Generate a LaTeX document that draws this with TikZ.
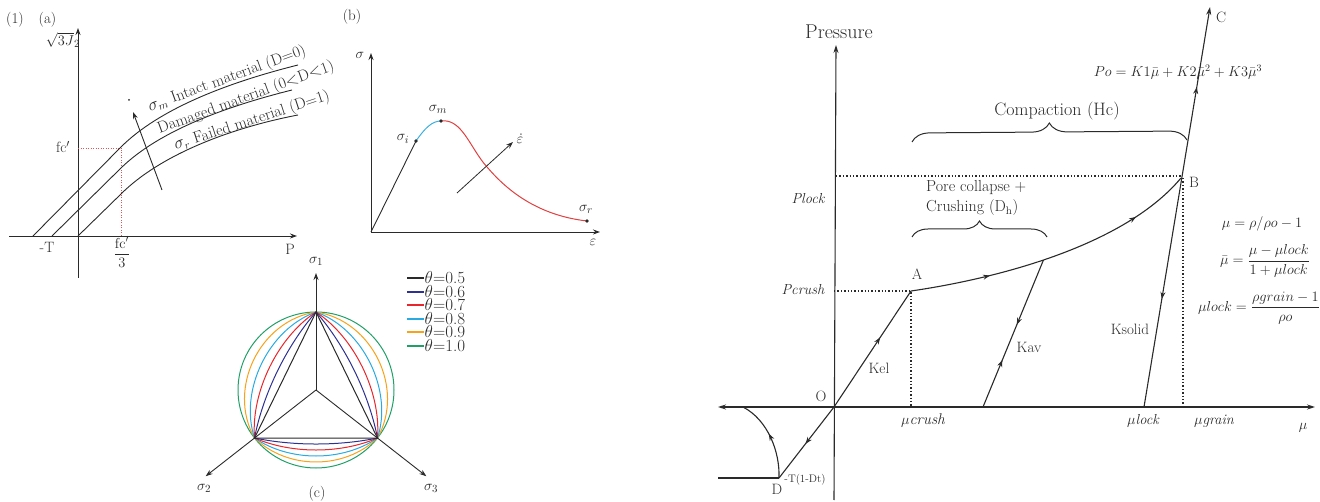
\documentclass[tikz,border=0pt]{standalone}
\usepackage{amsmath}
\usetikzlibrary{arrows.meta,calc,decorations.markings,decorations.pathreplacing}
\definecolor{ink}{HTML}{2A2A2A}
\definecolor{tblue}{HTML}{2E3192}
\definecolor{tred}{HTML}{E8262B}
\definecolor{tcyan}{HTML}{29ABE2}
\definecolor{torange}{HTML}{F7A21B}
\definecolor{tgreen}{HTML}{1FA067}
\definecolor{dotred}{HTML}{E05555}
\definecolor{bblue}{HTML}{3BB0E0}
\definecolor{bred}{HTML}{E0403F}
\begin{document}
\begin{tikzpicture}[x=1pt,y=-1pt,
  lab/.style={font=\fontsize{15}{17}\selectfont, text=ink, inner sep=1pt},
  big/.style={font=\fontsize{17}{19}\selectfont, text=ink, inner sep=1pt},
  curvelab/.style={font=\fontsize{16}{18}\selectfont, text=ink, inner sep=0.5pt},
  mlab/.style={font=\fontsize{14.5}{16}\selectfont, text=ink, inner sep=1pt},
  small/.style={font=\fontsize{11}{13}\selectfont, text=ink, inner sep=1pt},
  ax/.style={draw=ink, line width=0.9pt, -{Stealth[length=7pt,width=5pt]}},
  crv/.style={draw=ink, line width=0.9pt},
  cl/.style={line width=1pt},
  rl/.style={draw=ink, line width=1.1pt},
  dotl/.style={draw=ink, line width=1.2pt, dash pattern=on 1.4pt off 2pt},
  reddot/.style={draw=dotred, line width=0.8pt, dash pattern=on 1pt off 1.5pt},
  mid/.style={postaction={decorate}, decoration={markings, mark=at position #1 with {\arrow{Stealth[length=7pt,width=5pt]}}}},
  twomid/.style 2 args={postaction={decorate}, decoration={markings,
     mark=at position #1 with {\arrow{Stealth[length=7pt,width=5pt]}},
     mark=at position #2 with {\arrow{Stealth[length=7pt,width=5pt]}}}},
  updown/.style 2 args={postaction={decorate}, decoration={markings,
     mark=at position #1 with {\arrow{Stealth[length=7pt,width=5pt]}},
     mark=at position #2 with {\arrowreversed{Stealth[length=7pt,width=5pt]}}}},
  downup/.style 2 args={postaction={decorate}, decoration={markings,
     mark=at position #1 with {\arrowreversed{Stealth[length=7pt,width=5pt]}},
     mark=at position #2 with {\arrow{Stealth[length=7pt,width=5pt]}}}},
  br/.style={draw=ink, line width=1pt, decorate, decoration={brace, amplitude=#1}}
]
\useasboundingbox (0,0) rectangle (1320,502);

% ================= panel (a) =================
\draw[ax] (9,236) -- (297,236);
\draw[ax] (78,278) -- (78,28);
\node[lab, anchor=west] (n1a) at (5,20) {(1)\quad(a)};
\node[lab] (j2) at (63,40) {$\sqrt{3J}_{2}$};
\node[lab] (fc) at (63,147) {fc$'$};
\draw[reddot] (78,148) -- (121,148) -- (121,236);
\node[lab] (mT) at (47,247) {-T};
\node[lab] (fc3) at (122,252) {$\dfrac{\mathrm{fc}'}{3}$};
\node[lab] (Pa) at (290,249) {P};
\draw[crv] (33,236) -- (121,147) .. controls (160,108) and (230,82) .. (298,65);
\draw[crv] (52,236) -- (121,168) .. controls (160,130) and (228,106) .. (292,90);
\draw[crv] (78,236) -- (121,194) .. controls (160,155) and (230,128) .. (298,115);
\node[curvelab, rotate=20] (t1) at (227,79) {$\sigma_{m}$ Intact material (D=0)};
\node[curvelab, rotate=20] (t2) at (246,98) {Damaged material (0$<$D$<$1)};
\node[curvelab, rotate=18] (t3) at (252,121) {$\sigma_{r}$ Failed material (D=1)};
\coordinate (arA) at (162,190);
\coordinate (arB) at (133,112);
\draw[ax] (arA) -- (arB);
\fill[ink] (129,100) circle[radius=1];

% ================= panel (b) =================
\node[lab] (nb) at (352,17) {(b)};
\coordinate (bO) at (371,232);
\draw[ax] (bO) -- (371,53);
\draw[ax] (bO) -- (600,232);
\node[lab] (sig) at (360,55) {$\sigma$};
\node[lab] (eps) at (593,242) {$\varepsilon$};
\coordinate (si) at (416,141);
\coordinate (sm) at (441,121);
\coordinate (sr) at (587,221);
\draw[crv] (bO) -- (si);
\draw[bblue, line width=1pt] (si) .. controls (425,128) and (432,121) .. (sm);
\draw[bred, line width=1pt] (sm) .. controls (462,118) and (470,148) .. (487,167)
   .. controls (505,188) and (535,215) .. (sr);
\fill[ink] (si) circle[radius=1.8];
\fill[ink] (sm) circle[radius=1.8];
\fill[ink] (sr) circle[radius=1.8];
\node[lab] (lsi) at (403,139) {$\sigma_{i}$};
\node[lab] (lsm) at (438,109) {$\sigma_{m}$};
\node[lab] (lsr) at (586,209) {$\sigma_{r}$};
\draw[ax, line width=0.8pt] (457,193) -- (513,142);
\node[lab] (ed) at (520,139) {$\dot{\varepsilon}$};

% ================= panel (c) =================
\coordinate (cO) at (316,390);
\coordinate (vA) at ($(cO)+(-90:78)$);
\coordinate (vB) at ($(cO)+(-218:78)$);
\coordinate (vC) at ($(cO)+(-322:78)$);
\coordinate (a1) at ($(vA)+(-180:65)$);
\coordinate (a2) at ($(vB)+(-128:65)$);
\coordinate (b1) at ($(vB)+(-308:50.7)$);
\coordinate (b2) at ($(vC)+(-232:50.7)$);
\coordinate (c1) at ($(vC)+(-52:65)$);
\coordinate (c2) at ($(vA)+(0:65)$);
\draw[tgreen, cl] (cO) circle[radius=78];
\foreach \t/\c in {0.8/torange, 0.6/tcyan, 0.4/tred, 0.2/tblue} {
  \draw[\c, cl] (vA) .. controls ($(vA)!1/3!(vB)!\t!(a1)$) and ($(vA)!2/3!(vB)!\t!(a2)$) .. (vB)
     .. controls ($(vB)!1/3!(vC)!\t!(b1)$) and ($(vB)!2/3!(vC)!\t!(b2)$) .. (vC)
     .. controls ($(vC)!1/3!(vA)!\t!(c1)$) and ($(vC)!2/3!(vA)!\t!(c2)$) .. (vA);
}
\draw[ink, cl] (vA) -- (vB) -- (vC) -- cycle;
\coordinate (s1t) at (316,273);
\coordinate (s2t) at ($(cO)+(-218:140)$);
\coordinate (s3t) at ($(cO)+(-322:140)$);
\draw[ax] (cO) -- (s1t);
\draw[ax] (cO) -- (s2t);
\draw[ax] (cO) -- (s3t);
\node[lab] (ls1) at (316,261) {$\sigma_{1}$};
\node[lab] (ls2) at (204,488) {$\sigma_{2}$};
\node[lab] (ls3) at (431,488) {$\sigma_{3}$};
\node[lab] (nc) at (317,494) {(c)};
\foreach \y/\c/\v [count=\i] in {278/ink/0.5, 292/tblue/0.6, 305/tred/0.7, 319/tcyan/0.8, 332/torange/0.9, 346/tgreen/1.0} {
  \draw[\c, line width=1.1pt] (407,\y) -- (424,\y);
  \node[big, anchor=west, inner sep=0.5pt] (leg\i) at (424,\y) {$\theta$=\v};
}

% ================= right diagram =================
\coordinate (O) at (834,407);
\coordinate (A) at (911,291);
\coordinate (B) at (1181,178);
\coordinate (C) at (1210,7);
\coordinate (D) at (779,478);
\coordinate (K0) at (983,407);
\coordinate (L) at (1144,407);
\coordinate (E) at (743,407);
\coordinate (Dl) at (718,478);
\draw[rl, {Stealth[length=8pt,width=5pt]}-{Stealth[length=8pt,width=5pt]}] (718,407) -- (1315,407);
\draw[rl, -{Stealth[length=8pt,width=5pt]}] (834,500) -- (836,45);
\node[font=\fontsize{20}{22}\selectfont, text=ink] (pres) at (839,32) {Pressure};

\draw[dotl] (834,291) -- (A) -- (911,407);
\draw[dotl] (836,176) -- (1181,176);
\draw[dotl] (1183,178) -- (1183,407);

\draw[rl, mid=0.6] (O) -- (A);
\draw[rl, twomid={0.27}{0.8}] (A) .. controls (1000,278) and (1125,245) .. coordinate[pos=0.45] (K1) (B);
\draw[rl, updown={0.32}{0.56}] (K0) -- (K1);
\draw[rl, -{Stealth[length=8pt,width=5pt]}, downup={0.27}{0.8}] (L) -- (C);
\draw[rl, mid=0.52] (O) -- (D);
\draw[rl, mid=0.55] (D) .. controls (780,452) and (768,420) .. (E);
\draw[rl] (D) -- (Dl);

\draw[br=18pt] (912,142) -- (1187,140);
\draw[br=16pt] (912,237) -- (1047,237);
\node[font=\fontsize{18}{20}\selectfont, text=ink, inner sep=1pt] (comp) at (1057,111) {Compaction (Hc)};
\node[font=\fontsize{16}{18}\selectfont, text=ink, inner sep=1pt, anchor=west] (pc1) at (925,188) {Pore collapse +};
\node[font=\fontsize{16}{18}\selectfont, text=ink, inner sep=1pt, anchor=west] (pc2) at (925,208) {Crushing (D$_{\mathrm{h}}$)};

\node[lab] (lA) at (917,274) {A};
\node[lab] (lB) at (1194,182) {B};
\node[lab] (lC) at (1221,17) {C};
\node[lab] (lO) at (821,396) {O};
\node[lab] (lD) at (777,489) {D};
\node[small] (lT) at (805,480) {-T(1-Dt)};
\node[lab] (kel) at (879,368) {Kel};
\node[lab] (kav) at (1029,347) {Kav};
\node[lab] (ksol) at (1130,329) {Ksolid};

\node[mlab] (pcr) at (803,290) {\itshape Pcrush};
\node[mlab] (plk) at (808,199) {\itshape Plock};
\node[font=\fontsize{15.5}{17}\selectfont, text=ink, inner sep=1pt] (mcr) at (923,421) {$\mu$\itshape crush};
\node[mlab] (mlk) at (1143,421) {$\mu$\itshape lock};
\node[mlab] (mgr) at (1214,421) {$\mu$\itshape grain};
\node[mlab] (mu) at (1303,428) {$\mu$};

\node[font=\fontsize{14}{16}\selectfont, text=ink, inner sep=1pt] (po) at (1178,72) {$Po = K1\bar{\mu} + K2\bar{\mu}^{2} + K3\bar{\mu}^{3}$};
\node[mlab] (f1) at (1262,224) {$\mu = \rho/\rho o - 1$};
\node[mlab] (f2) at (1265,261) {$\bar{\mu} = \dfrac{\mu - \mu lock}{1 + \mu lock}$};
\node[mlab] (f3) at (1259,308) {$\mu lock = \dfrac{\rho grain - 1}{\rho o}$};
\end{tikzpicture}
\end{document}
